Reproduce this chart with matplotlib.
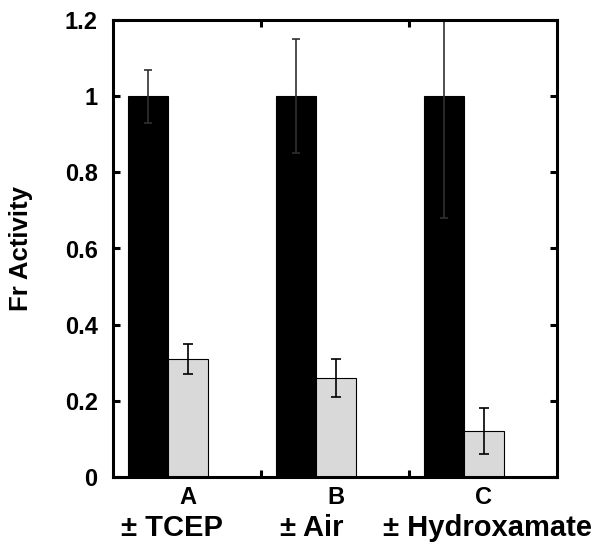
import numpy as np
import matplotlib.pyplot as plt
import matplotlib.transforms as mtransforms

plt.rcParams['font.family'] = ['Liberation Sans', 'DejaVu Sans']
plt.rcParams['font.weight'] = 'bold'

groups = ['A', 'B', 'C']
conditions = ['± TCEP', '± Air', '± Hydroxamate']
black_vals = [1.0, 1.0, 1.0]
black_err = [0.07, 0.15, 0.32]
gray_vals = [0.31, 0.26, 0.12]
gray_err = [0.04, 0.05, 0.06]

fig = plt.figure(figsize=(6.01, 5.55), dpi=100)
ax = fig.add_axes([113/601, 1 - 477/555, 444/601, 457/555])

x = np.arange(len(groups))
w = 0.27
xb = x + 0.1 + w / 2
xg = x + 0.1 + w + w / 2

ax.bar(xb, black_vals, width=w, color='black', edgecolor='black', linewidth=0.8)
ax.errorbar(xb, black_vals, yerr=black_err, fmt='none', ecolor='#303030',
            elinewidth=1.2, capsize=3, capthick=1.2)
ax.bar(xg, gray_vals, width=w, color='#d9d9d9', edgecolor='black', linewidth=0.8)
ax.errorbar(xg, gray_vals, yerr=gray_err, fmt='none', ecolor='black',
            elinewidth=1.2, capsize=3.5, capthick=1.2)

ax.set_xlim(0, 3)
ax.set_ylim(0, 1.2)
ax.set_yticks([0, 0.2, 0.4, 0.6, 0.8, 1.0, 1.2])
ax.set_yticklabels(['0', '0.2', '0.4', '0.6', '0.8', '1', '1.2'])
ax.set_xticks([1, 2])
ax.set_xticklabels([])
ax.tick_params(direction='in', width=2.2, length=5, top=True, right=True,
               labelsize=17, pad=11)
for s in ax.spines.values():
    s.set_linewidth(2.2)

ax.set_ylabel('Fr Activity', fontsize=18.5, fontweight='bold', labelpad=23)

trans = mtransforms.blended_transform_factory(ax.transData, fig.transFigure)
for i in range(3):
    ax.text(xg[i], 1 - 497/555, groups[i], transform=trans, ha='center',
            va='center', fontsize=17, fontweight='bold')
cond_x = [0.4, 1.345, 2.53]
for i in range(3):
    ax.text(cond_x[i], 1 - 528/555, conditions[i], transform=trans, ha='center',
            va='center', fontsize=21, fontweight='bold')

fig.savefig('out.png', dpi=100)
